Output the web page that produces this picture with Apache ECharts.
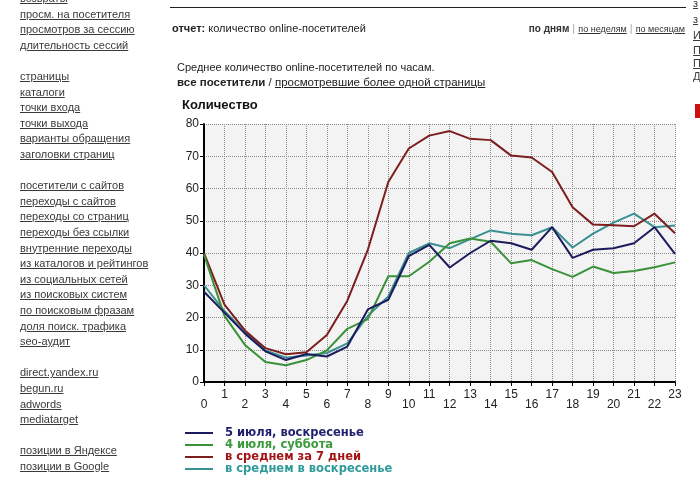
<!DOCTYPE html>
<html><head><meta charset="utf-8">
<script src="https://cdn.jsdelivr.net/npm/echarts@6/dist/echarts.min.js"></script>
<style>
html,body{margin:0;padding:0;background:#fff;width:700px;height:488px;overflow:hidden;}
#chart{position:absolute;left:0;top:0;width:700px;height:488px;}
.t{position:absolute;white-space:nowrap;font-family:"Liberation Sans",Arial,sans-serif;font-size:11px;color:#333;line-height:13px;}
.u{text-decoration:underline;}
.b{font-weight:bold;}
</style></head>
<body>
<div id="chart"></div>
<div id="page"></div>
<script>
// ---- data ----
const hours = ['0','1','2','3','4','5','6','7','8','9','10','11','12','13','14','15','16','17','18','19','20','21','22','23'];
const sunday5 = [28, 21.5, 15, 9.5, 6.8, 8.7, 7.9, 11, 22.5, 25.5, 39, 42.5, 35.5, 40, 43.8, 43, 41, 48, 38.5, 41, 41.5, 43, 48, 39.7];
const saturday4 = [39.5, 20.5, 11.5, 6.2, 5.2, 6.8, 9.8, 16.5, 19.5, 32.8, 32.8, 37.3, 43, 44.5, 43.5, 36.8, 37.8, 35, 32.6, 35.8, 33.8, 34.4, 35.6, 37.1];
const avg7days = [40, 24, 16, 10.5, 8.6, 9.2, 14.6, 25.2, 41, 62, 72.4, 76.4, 77.8, 75.4, 75, 70.2, 69.6, 65.1, 54.2, 48.8, 48.6, 48.3, 52.2, 46.1];
const avgSunday = [30, 22, 15.5, 9.8, 7.5, 8.2, 9, 12, 20.5, 26.5, 40, 43, 41.5, 44.3, 47, 46, 45.5, 48, 41.7, 46, 49.4, 52.2, 48, 48.5];
const seriesNames = ['5 июля, воскресенье', '4 июля, суббота', 'в среднем за 7 дней', 'в среднем в воскресенье'];
const yMin = 0, yMax = 80, yStep = 10;

const sideLinks = ['возвраты','просм. на посетителя','просмотров за сессию','длительность сессий','',
  'страницы','каталоги','точки входа','точки выхода','варианты обращения','заголовки страниц','',
  'посетители с сайтов','переходы с сайтов','переходы со страниц','переходы без ссылки','внутренние переходы',
  'из каталогов и рейтингов','из социальных сетей','из поисковых систем','по поисковым фразам','доля поиск. трафика','seo-аудит','',
  'direct.yandex.ru','begun.ru','adwords','mediatarget','',
  'позиции в Яндексе','позиции в Google'];
const rightFrag = ['з','з','И','П','П','Д'];

// ---- page text ----
const page = document.getElementById('page');
function add(html, left, cy, extra){
  const d = document.createElement('div');
  d.className = 't';
  d.innerHTML = html;
  d.style.left = left + 'px';
  d.style.top = (cy - 6.5) + 'px';
  if (extra) Object.assign(d.style, extra);
  page.appendChild(d);
  return d;
}
sideLinks.forEach((s, k) => { if (s) add('<span class="u">' + s + '</span>', 20, -1.6 + 15.6 * k, {color:'#3a3a3a'}); });
const rightY = [3, 19, 35, 50, 63, 76];
rightFrag.forEach((s, k) => add('<span class="u">' + s + '</span>', 693, rightY[k], {color:'#3a3a3a'}));
const line = document.createElement('div');
Object.assign(line.style, {position:'absolute', left:'170px', top:'7px', width:'516px', height:'1px', background:'#222'});
page.appendChild(line);
const red = document.createElement('div');
Object.assign(red.style, {position:'absolute', left:'695px', top:'104px', width:'5px', height:'14px', background:'#cc1111'});
page.appendChild(red);
add('<span class="b">отчет:</span> количество online-посетителей', 172, 28, {color:'#222'});
add('<span class="b" style="font-size:10px">по дням</span> <span style="color:#aaa">|</span> <span class="u" style="font-size:9px">по неделям</span> <span style="color:#aaa">|</span> <span class="u" style="font-size:9px">по месяцам</span>', 0, 28, {left:'auto', right:'15px', color:'#333'});
add('Среднее количество online-посетителей по часам.', 177, 67, {color:'#222'});
add('<span class="b">все посетители</span> / <span class="u">просмотревшие более одной страницы</span>', 177, 82, {color:'#222', fontSize:'11.5px'});
add('Количество', 182, 104, {fontWeight:'bold', fontSize:'13px', color:'#111'});

// ---- chart ----
const lineColors = ['#1b1b5e', '#3a913a', '#7d1e1e', '#3a9090'];
const textColors = ['#1f1f6e', '#3c9a3c', '#a31515', '#2f9a9a'];
const values = [sunday5, saturday4, avg7days, avgSunday];
const chart = echarts.init(document.getElementById('chart'));
const lblFont = {fontSize:12, color:'#222', fontFamily:'Liberation Sans, Arial, sans-serif'};
chart.setOption({
  animation:false,
  grid:{left:204, top:124, width:471, height:258, show:true, backgroundColor:'#f3f3f3', borderWidth:0},
  xAxis:[{
    type:'category', data:hours, boundaryGap:false, position:'bottom',
    axisLine:{lineStyle:{color:'#000', width:2}},
    axisTick:{show:true, interval:0, length:4, lineStyle:{color:'#000', width:1}},
    axisLabel:Object.assign({interval:(i)=>i%2===1, margin:7}, lblFont),
    splitLine:{show:true, interval:0, lineStyle:{color:'#8a8a8a', type:'dotted', width:1}}
  },{
    type:'category', data:hours, boundaryGap:false, position:'bottom', offset:0,
    axisLine:{show:false}, axisTick:{show:false}, splitLine:{show:false},
    axisLabel:Object.assign({interval:(i)=>i%2===0, margin:17}, lblFont)
  }],
  yAxis:{
    type:'value', min:yMin, max:yMax, interval:yStep,
    axisLine:{show:true, lineStyle:{color:'#000', width:2}},
    axisTick:{show:true, length:4, lineStyle:{color:'#000', width:1}},
    axisLabel:Object.assign({margin:5}, lblFont),
    splitLine:{show:true, lineStyle:{color:'#8a8a8a', type:'dotted', width:1}}
  },
  legend:{
    orient:'vertical', left:185, top:427, itemWidth:28, itemHeight:2, itemGap:0, icon:'rect', padding:0,
    selectedMode:false,
    textStyle:{fontFamily:'DejaVu Sans, Verdana, sans-serif', fontWeight:'bold', fontSize:11.5, lineHeight:11.4, padding:[0,0,0,7]},
    data:seriesNames.map((n, i) => ({name:n, textStyle:{color:textColors[i]}}))
  },
  series:seriesNames.map((n, i) => ({
    name:n, type:'line', data:values[i], symbol:'none', color:lineColors[i],
    lineStyle:{color:lineColors[i], width:2}, z: 10 - i
  }))
});
</script>
</body></html>
